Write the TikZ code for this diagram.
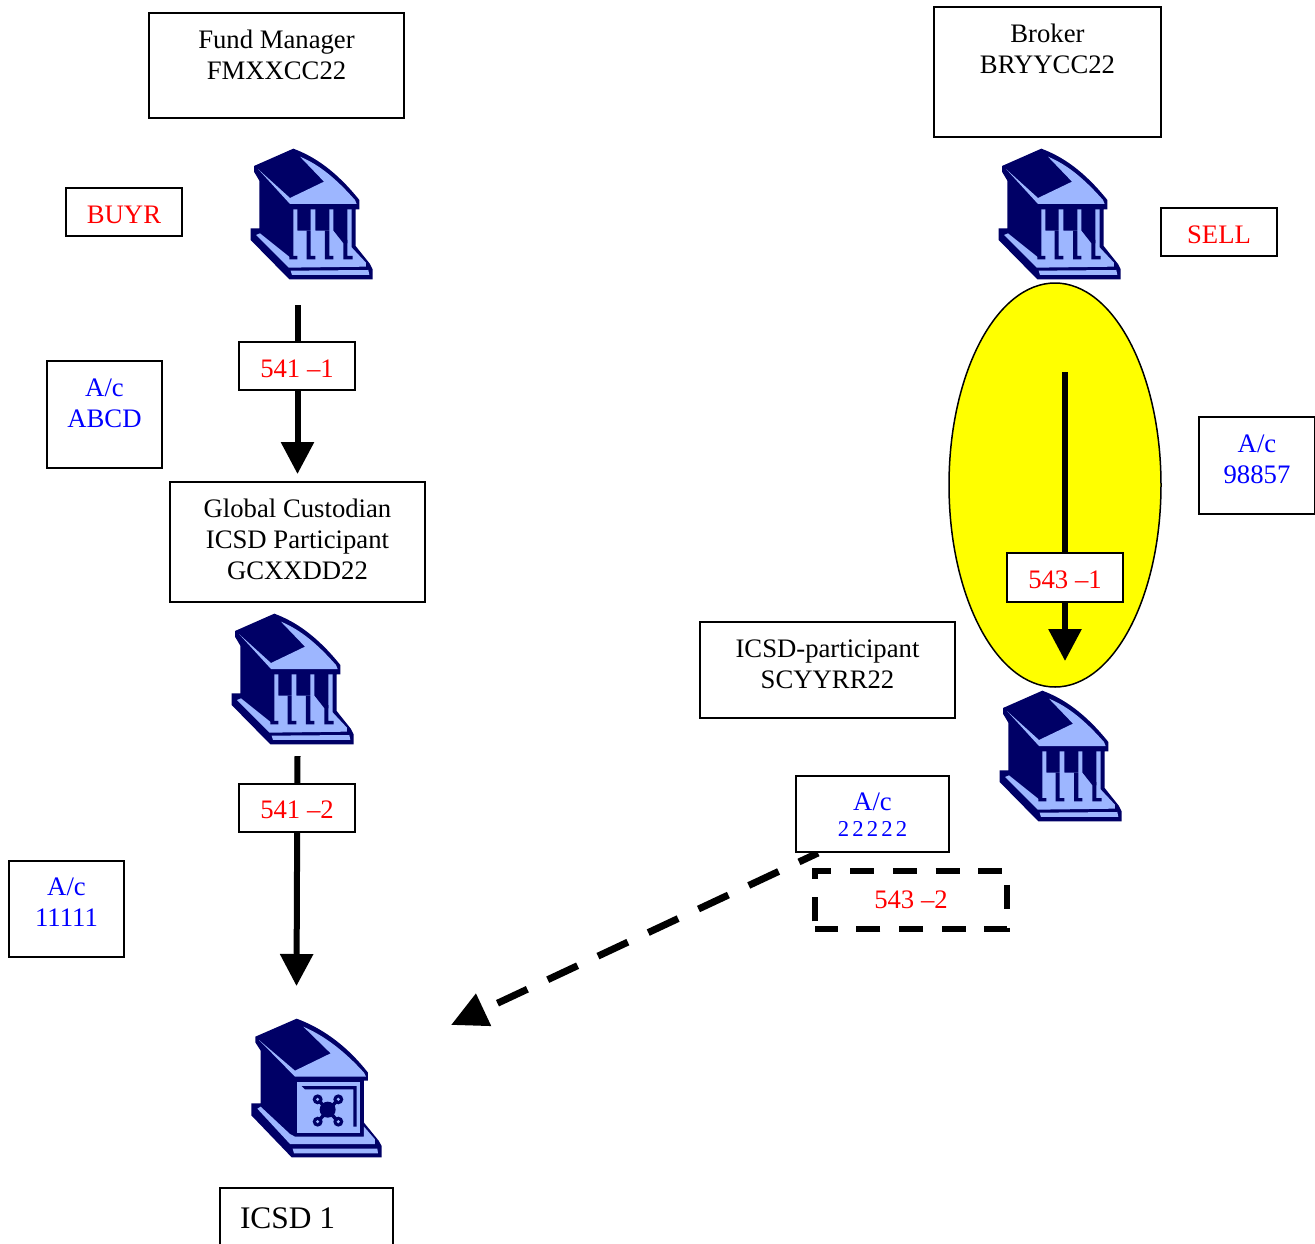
\documentclass[tikz,border=0pt]{standalone}
\usepackage{fontspec}
\setmainfont{Liberation Serif}
\usetikzlibrary{arrows.meta,shapes.geometric}
\definecolor{bankdark}{HTML}{000066}
\definecolor{banklight}{HTML}{9DB6FF}
\definecolor{txtred}{HTML}{FF0000}
\definecolor{txtblue}{HTML}{0000FF}
\definecolor{ovalfill}{HTML}{FFFF00}
\tikzset{
  framebox/.style={draw=black,line width=1.8pt,fill=white,inner sep=0pt,outer sep=0pt,anchor=north west},
  flow/.style={line width=6pt,-{Triangle[length=32pt,width=32pt]}},
  dashflow/.style={line width=7pt,dash pattern=on 33pt off 22.5pt,dash phase=12pt,-{Triangle[length=36pt,width=34pt]}},
  dk/.style={fill=bankdark,draw=none},
  lt/.style={fill=banklight,draw=none}
}
% [first baseline], name, x1, y1, width, height, colour, text
\newcommand{\bx}[8][35]{\node[framebox] (#2) at (#3,#4) {\parbox[t][#6pt][t]{#5pt}{\centering\color{#7}\fontsize{26.7}{31}\selectfont\rule{0pt}{#1pt}#8}};}
\newcommand{\iconroof}{
  \fill[dk] (160,26) -- (42,78) -- (42,95) -- (58,122) -- (58,265) -- (32,265) -- (32,300) -- (148,418) -- (398,418) -- (398,388) -- (390,372) -- (347,318) -- (347,208) -- (358,208) -- (358,180) .. controls (290,95) and (225,50) .. (160,26) -- cycle;
  \fill[lt] (55,88) -- (150,192) -- (350,192) -- (345,180) .. controls (290,118) and (240,75) .. (180,50) -- (252,125) -- (150,174) -- cycle;
}
\newcommand{\bankicon}[2]{\begin{scope}[shift={(#1,#2)},x=0.3333pt,y=-0.3333pt]
  \iconroof
  \fill[lt] (48,285) -- (60,280) -- (150,352) -- (160,352) -- (160,208) -- (172,208) -- (172,272) -- (212,272) -- (212,208) -- (226,208) -- (226,272) -- (268,272) -- (268,208) -- (280,208) -- (280,272) -- (310,310) -- (322,310) -- (322,208) -- (335,208) -- (335,322) -- (347,335) -- (378,368) -- (378,380) -- (146,383) -- cycle;
  \fill[dk] (200,272) rectangle (212,352) (255,272) rectangle (268,352) (310,300) rectangle (322,352) (148,348) rectangle (172,358) (200,348) rectangle (226,358) (255,348) rectangle (280,358) (310,348) rectangle (338,358);
  \fill[lt] (152,392) -- (385,390) -- (388,405) -- (156,405) -- cycle;
\end{scope}}
\newcommand{\vaulticon}[2]{\begin{scope}[shift={(#1,#2)},x=0.3333pt,y=-0.3333pt]
  \fill[dk] (170,26) -- (46,80) -- (46,97) -- (62,122) -- (62,280) -- (34,280) -- (34,316) -- (155,442) -- (425,442) -- (425,408) -- (416,392) -- (372,338) -- (372,212) -- (384,212) -- (384,188) .. controls (315,100) and (240,52) .. (170,26) -- cycle;
  \fill[lt] (57,90) -- (165,200) -- (378,200) -- (372,188) .. controls (315,125) and (255,78) .. (190,50) -- (272,130) -- (165,182) -- cycle;
  \fill[lt] (172,215) -- (360,215) -- (360,368) -- (172,368) -- cycle;
  \fill[dk] (185,228) -- (350,228) -- (350,350) -- (340,350) -- (340,238) -- (195,238) -- cycle;
  \fill[lt] (52,296) -- (62,290) -- (150,372) -- (165,380) -- (372,380) -- (372,350) -- (405,388) -- (405,402) -- (150,402) -- cycle;
  \fill[lt] (158,416) -- (412,416) -- (414,430) -- (162,430) -- cycle;
  \draw[bankdark,line width=3.5pt] (233,268) -- (295,335) (295,268) -- (233,335);
  \fill[bankdark] (263,299) circle[radius=24];
  \foreach \a/\b in {233/268,295/268,233/335,295/335}{\fill[bankdark] (\a,\b) circle[radius=15]; \fill[banklight] (\a,\b) circle[radius=5];}
\end{scope}}
\begin{document}
\begin{tikzpicture}[x=1pt,y=-1pt]
\useasboundingbox (0,0) rectangle (1315,1243);
\clip (0,0) rectangle (1315,1243);
\fill[white] (0,0) rectangle (1315,1243);
% ellipse
\node[draw=black,line width=1.5pt,fill=ovalfill,ellipse,minimum width=212pt,minimum height=404pt,inner sep=0pt,outer sep=0pt] (oval) at (1055,485) {};
% free ends
\coordinate (a1s) at (297.5,305);
\coordinate (a1e) at (297.5,474);
\coordinate (a2s) at (297.5,756);
\coordinate (a2e) at (296.5,986);
\coordinate (a3s) at (1065,372);
\coordinate (a3e) at (1065,661);
\coordinate (a4s) at (818,853);
\coordinate (a4e) at (451,1025);
\draw[flow] (a1s) -- (a1e);
\draw[flow] (a2s) -- (a2e);
\draw[flow] (a3s) -- (a3e);
\draw[dashflow] (a4s) -- (a4e);
\bx[34]{acc}{796}{776}{153}{76}{txtblue}{A/c\\[-5pt]{\fontsize{22.7}{31}\selectfont\addfontfeature{LetterSpace=14}22222}}
\bx{fund}{149}{13}{255}{105}{black}{Fund Manager\\FMXXCC22}
\bx{broker}{934}{7}{227}{130}{black}{Broker\\BRYYCC22}
\bx{buyr}{66}{188}{116}{48}{txtred}{BUYR}
\bx{sell}{1161}{208}{116}{48}{txtred}{SELL}
\bx{m1}{239}{342}{116}{48}{txtred}{541 --1}
\bx{abcd}{47}{361}{115}{107}{txtblue}{A/c\\ABCD}
\bx{num}{1199}{417}{116}{97}{txtblue}{A/c\\98857}
\bx{gc}{170}{482}{255}{120}{black}{Global Custodian\\ICSD Participant\\GCXXDD22}
\bx{m3}{1007}{553}{116}{49}{txtred}{543 --1}
\bx{part}{700}{622}{255}{96}{black}{ICSD-participant\\SCYYRR22}
\bx[34]{m2}{239}{784}{116}{48}{txtred}{541 --2}
\bx[34]{one}{9}{861}{115}{96}{txtblue}{A/c\\11111}
\node[minimum width=192pt,minimum height=58pt,inner sep=0pt,outer sep=0pt,text=txtred,font=\fontsize{26.7}{31}\selectfont] (m4) at (911,900) {543 --2};
\draw[line width=6pt,dash pattern=on 24pt off 18.7pt,dash phase=35pt] (m4.south west) -- (m4.north west) -- (m4.north east) -- (m4.south east) -- (m4.south west);
\node[framebox] (icsd) at (220,1188) {\parbox[t][90pt][t]{173pt}{\hspace*{20pt}\fontsize{31.4}{35}\selectfont\rule{0pt}{40pt}ICSD 1}};
\bankicon{240}{140}
\bankicon{988}{140}
\bankicon{221}{605}
\bankicon{989}{682}
\vaulticon{240}{1010}
\end{tikzpicture}
\end{document}
